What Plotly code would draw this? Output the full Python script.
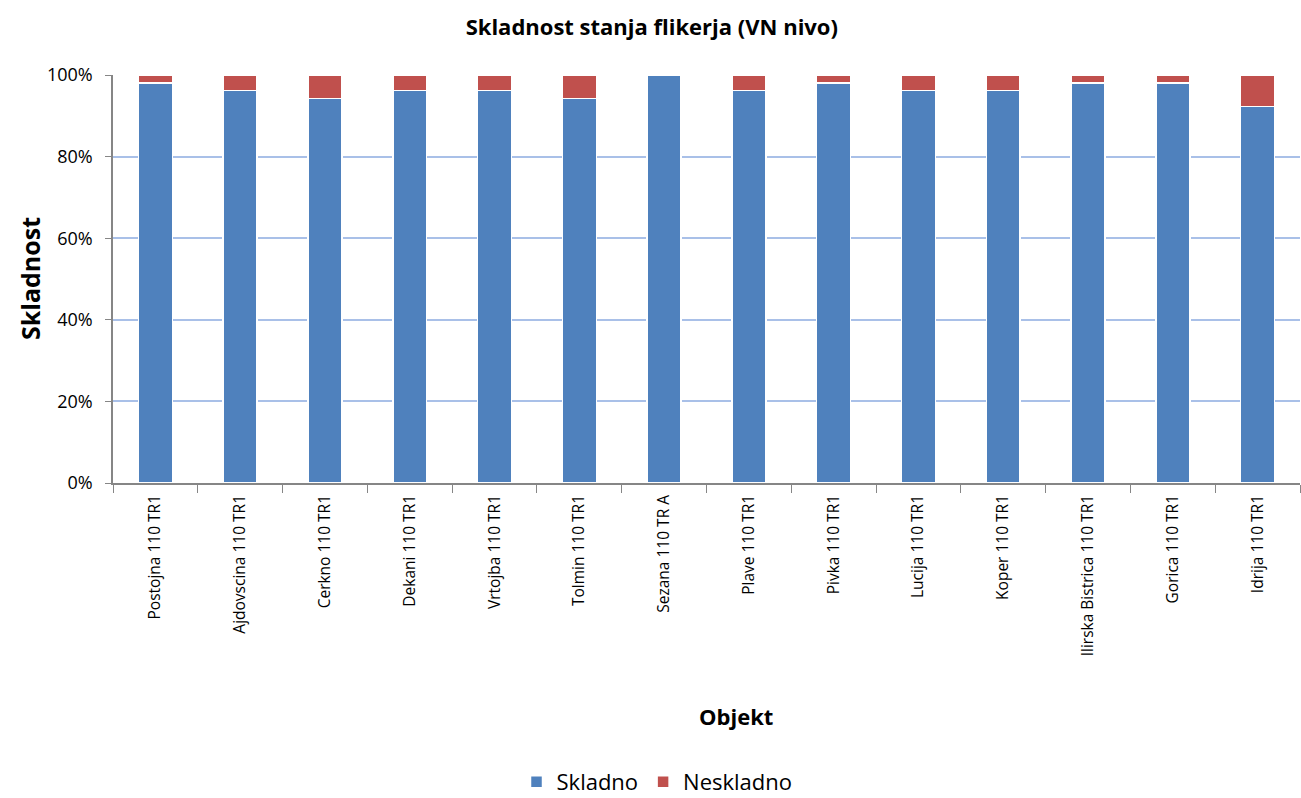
import plotly.graph_objects as go

categories = ["Postojna 110 TR1", "Ajdovscina 110 TR1", "Cerkno 110 TR1", "Dekani 110 TR1",
              "Vrtojba 110 TR1", "Tolmin 110 TR1", "Sezana 110 TR A", "Plave 110 TR1",
              "Pivka 110 TR1", "Lucija 110 TR1", "Koper 110 TR1", "Ilirska Bistrica 110 TR1",
              "Gorica 110 TR1", "Idrija 110 TR1"]
skladno = [0.981, 0.962, 0.942, 0.962, 0.962, 0.942, 1.0, 0.962, 0.981, 0.962, 0.962, 0.981, 0.981, 0.923]
neskladno = [round(1 - v, 3) for v in skladno]

font_family = "Open Sans, Noto Sans, sans-serif"

fig = go.Figure()
fig.add_trace(go.Bar(x=categories, y=skladno, name="Skladno",
                     marker=dict(color="#4F81BD", line=dict(color="white", width=1.5))))
fig.add_trace(go.Bar(x=categories, y=neskladno, name="Neskladno",
                     marker=dict(color="#C0504D", line=dict(color="white", width=1.5))))

fig.update_layout(
    barmode="stack",
    bargap=0.6,
    width=1301, height=798,
    paper_bgcolor="white", plot_bgcolor="white",
    font=dict(family=font_family, size=15, color="black"),
    margin=dict(l=113, r=1, t=75, b=315, autoexpand=False),
    title=dict(text="<b>Skladnost stanja flikerja (VN nivo)</b>", x=0.501, xanchor="center",
               y=1 - 27 / 798, yanchor="middle", font=dict(size=22)),
    xaxis=dict(tickangle=-90, ticks="outside", tickson="boundaries", ticklen=8,
               tickcolor="#868686", showline=True, linecolor="#868686", linewidth=1.5,
               tickfont=dict(size=15.5), automargin=False, ticklabelstandoff=4),
    yaxis=dict(range=[0, 1], tickformat=".0%", dtick=0.2,
               showgrid=True, gridcolor="#A9C0E8", gridwidth=1.5,
               showline=True, linecolor="#868686", linewidth=1.5,
               ticks="outside", ticklen=6, tickcolor="#868686",
               zeroline=False, tickfont=dict(size=18), automargin=False,
               ticklabelstandoff=9),
    legend=dict(orientation="h", xref="container", x=0.505, xanchor="center",
                yref="container", y=1 - 782 / 798, yanchor="middle",
                font=dict(size=22), traceorder="normal"),
    annotations=[
        dict(text="<b>Skladnost</b>", textangle=-90, xref="paper", yref="paper",
             x=(30 - 113) / 1187, y=0.5, xanchor="center", yanchor="middle",
             showarrow=False, font=dict(size=25)),
        dict(text="<b>Objekt</b>", xref="paper", yref="paper",
             x=(736 - 113) / 1187, y=(483 - 716) / 408, xanchor="center", yanchor="middle",
             showarrow=False, font=dict(size=22)),
    ],
)

fig.write_html("out.html", config={"displayModeBar": False},
               post_script="document.body.style.margin='0';document.body.style.overflow='hidden';")
